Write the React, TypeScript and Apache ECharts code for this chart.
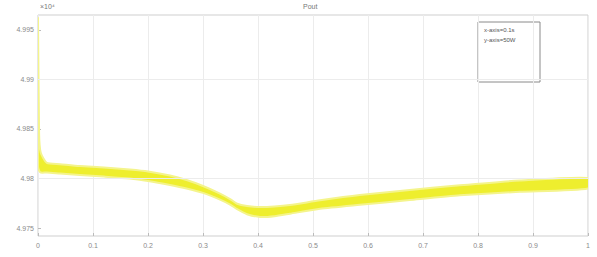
import React, { useEffect, useRef } from "react";
import * as echarts from "echarts";

const xValues = [0, 0.002, 0.005, 0.016, 0.04, 0.076, 0.12, 0.167, 0.2, 0.24, 0.27, 0.3, 0.33, 0.35, 0.362, 0.38, 0.404, 0.43, 0.458, 0.513, 0.585, 0.676, 0.767, 0.876, 1.0];
const upperValues = [4.9962, 4.9845, 4.9826, 4.98157, 4.98145, 4.98126, 4.98112, 4.9809, 4.9807, 4.9803, 4.97985, 4.97925, 4.9785, 4.9779, 4.97745, 4.97722, 4.97712, 4.97718, 4.97733, 4.9778, 4.97833, 4.97884, 4.97932, 4.9798, 4.98005];
const lowerValues = [4.9812, 4.9808, 4.9806, 4.9806, 4.9805, 4.98036, 4.9802, 4.98, 4.97975, 4.97935, 4.979, 4.97855, 4.9779, 4.97735, 4.9769, 4.9764, 4.97612, 4.9762, 4.97645, 4.97695, 4.97735, 4.97783, 4.9783, 4.97866, 4.979];
const yTicks = [4.975, 4.98, 4.985, 4.99, 4.995];
const xTicks = [0, 0.1, 0.2, 0.3, 0.4, 0.5, 0.6, 0.7, 0.8, 0.9, 1];
const titleText = "Pout";
const scaleText = "×10⁴";
const legendLines = ["x-axis=0.1s", "y-axis=50W"];

export default function App() {
  const ref = useRef<HTMLDivElement>(null);
  useEffect(() => {
    if (!ref.current) return;
    const chart = echarts.init(ref.current, undefined, { renderer: "svg" });
    const bandData = xValues.map((x, i) => [x, lowerValues[i], upperValues[i]]);
    const labelStyle = { color: "#8a8a8a", fontSize: 7, fontFamily: "Liberation Sans" };
    chart.setOption({
      animation: false,
      backgroundColor: "#ffffff",
      grid: { left: 38, right: 9, top: 15, bottom: 21, show: true, borderColor: "#cfcfcf", borderWidth: 1 },
      xAxis: {
        type: "value",
        min: 0,
        max: 1,
        interval: 0.1,
        axisLine: { show: false },
        axisTick: { show: true, inside: true, length: 3, lineStyle: { color: "#bbbbbb" } },
        splitLine: { show: true, lineStyle: { color: "#ececec", width: 1 } },
        axisLabel: { ...labelStyle, margin: 6, formatter: (v: number) => (xTicks.indexOf(+v.toFixed(1)) >= 0 ? String(+v.toFixed(1)) : "") },
      },
      yAxis: {
        type: "value",
        min: 4.9742,
        max: 4.9965,
        scale: true,
        axisLine: { show: false },
        axisTick: { show: true, inside: true, length: 3, customValues: yTicks, lineStyle: { color: "#bbbbbb" } },
        splitLine: { show: false },
        axisLabel: { ...labelStyle, margin: 4, customValues: yTicks, formatter: (v: number) => String(+v.toFixed(3)) },
      },
      series: [
        {
          type: "line",
          data: [],
          markLine: {
            silent: true,
            symbol: "none",
            label: { show: false },
            lineStyle: { color: "#ececec", type: "solid", width: 1 },
            data: yTicks.map((v) => ({ yAxis: v })),
          },
        },
        {
          type: "custom",
          data: bandData,
          encode: { x: 0, y: [1, 2] },
          clip: true,
          silent: true,
          renderItem: (params: any, api: any) => {
            if (params.dataIndex !== 0) return null;
            const top = bandData.map((d) => api.coord([d[0], d[2]]));
            const bottom = bandData.map((d) => api.coord([d[0], d[1]])).reverse();
            return {
              type: "polygon",
              shape: { points: top.concat(bottom), smooth: 0.2 },
              style: { fill: "#eeee2e", stroke: "#f4f48c", lineWidth: 2, lineJoin: "round" },
            };
          },
        },
      ],
      graphic: [
        { type: "text", left: 303, top: 3, style: { text: titleText, fontSize: 7, fill: "#777777", fontFamily: "Liberation Sans" } },
        { type: "text", left: 40, top: 3, style: { text: scaleText, fontSize: 7, fill: "#777777", fontFamily: "Liberation Sans" } },
        { type: "rect", shape: { x: 478, y: 22, width: 62, height: 60 }, style: { fill: "#ffffff", stroke: "#8a8a8a", lineWidth: 1 } },
        { type: "text", left: 484, top: 27, style: { text: legendLines[0], fontSize: 6, fill: "#555555", fontFamily: "Liberation Sans" } },
        { type: "text", left: 484, top: 37, style: { text: legendLines[1], fontSize: 6, fill: "#555555", fontFamily: "Liberation Sans" } },
      ],
    });
    return () => chart.dispose();
  }, []);
  return <div ref={ref} style={{ width: 597, height: 257, position: "absolute", left: 0, top: 0 }} />;
}
